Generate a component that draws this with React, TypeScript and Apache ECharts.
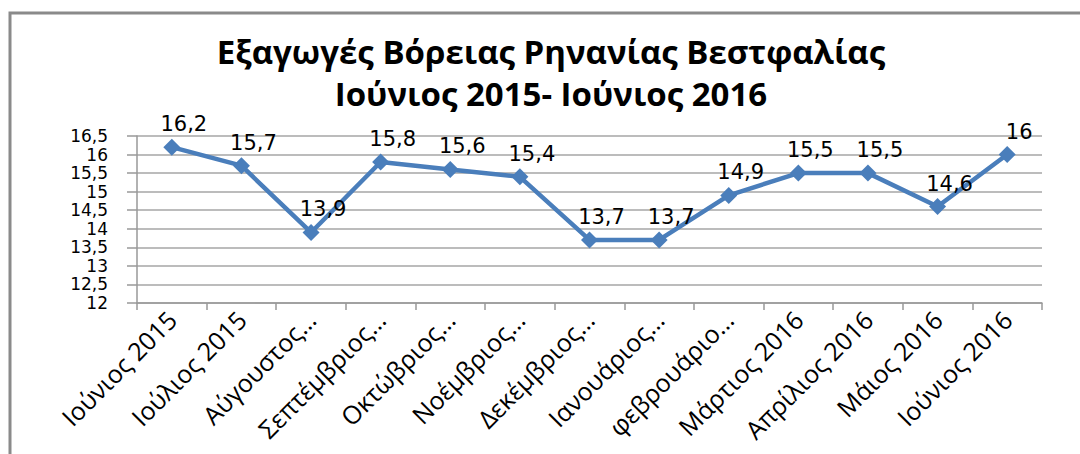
import React, { useEffect, useRef } from "react";
import * as echarts from "echarts";

const categories = [
  "Ιούνιος 2015",
  "Ιούλιος 2015",
  "Αύγουστος…",
  "Σεπτέμβριος…",
  "Οκτώβριος…",
  "Νοέμβριος…",
  "Δεκέμβριος…",
  "Ιανουάριος…",
  "φεβρουάριο…",
  "Μάρτιος 2016",
  "Απρίλιος 2016",
  "Μάιος 2016",
  "Ιούνιος 2016",
];
const values = [16.2, 15.7, 13.9, 15.8, 15.6, 15.4, 13.7, 13.7, 14.9, 15.5, 15.5, 14.6, 16];
const titleLines = ["Εξαγωγές Βόρειας Ρηνανίας Βεστφαλίας", "Ιούνιος 2015- Ιούνιος 2016"];
const yMin = 12;
const yMax = 16.5;
const yStep = 0.5;

const comma = (v: number) => String(v).replace(".", ",");

export default function App() {
  const ref = useRef<HTMLDivElement>(null);
  useEffect(() => {
    if (!ref.current) return;
    const chart = echarts.init(ref.current, undefined, { renderer: "svg" });
    chart.setOption({
      animation: false,
      backgroundColor: "#ffffff",
      graphic: [
        {
          type: "rect",
          shape: { x: 10, y: 13, width: 1200, height: 600 },
          style: { fill: "none", stroke: "#8a8a8a", lineWidth: 3 },
          silent: true,
        },
        {
          type: "text",
          style: {
            text: titleLines.join("\n"),
            x: 551,
            y: 72,
            textAlign: "center",
            textVerticalAlign: "middle",
            fontFamily: "Open Sans",
            fontWeight: "bold",
            fontSize: 33,
            lineHeight: 42,
            fill: "#000000",
          },
        },
      ],
      grid: { left: 137, right: 38, top: 136, bottom: 151, containLabel: false },
      xAxis: {
        type: "category",
        data: categories,
        boundaryGap: true,
        axisLine: { show: true, lineStyle: { color: "#999999", width: 1.5 } },
        axisTick: { show: true, length: 7, lineStyle: { color: "#999999", width: 1.5 } },
        axisLabel: {
          rotate: 45,
          interval: 0,
          margin: 12,
          fontFamily: "Open Sans",
          fontSize: 25,
          color: "#000000",
        },
      },
      yAxis: {
        type: "value",
        min: yMin,
        max: yMax,
        interval: yStep,
        axisLine: { show: true, lineStyle: { color: "#999999", width: 1.5 } },
        axisTick: { show: true, length: 10, lineStyle: { color: "#999999", width: 1.5 } },
        splitLine: { show: true, lineStyle: { color: "#a6a6a6", width: 1.5 } },
        axisLabel: {
          margin: 29,
          showMinLabel: true,
          showMaxLabel: true,
          hideOverlap: false,
          fontFamily: "DejaVu Sans",
          fontSize: 17,
          lineHeight: 16,
          color: "#000000",
          formatter: (v: number) => comma(v),
        },
      },
      series: [
        {
          type: "line",
          data: values,
          symbol: "diamond",
          symbolSize: 17,
          itemStyle: { color: "#4a7ebb" },
          lineStyle: { color: "#4a7ebb", width: 4.5 },
          label: {
            show: true,
            position: "top",
            distance: 4,
            offset: [12, 0],
            fontFamily: "DejaVu Sans",
            fontSize: 21,
            color: "#000000",
            formatter: (p: any) => comma(p.value),
          },
        },
      ],
    });
    return () => chart.dispose();
  }, []);
  return (
    <div
      ref={ref}
      style={{ position: "fixed", left: 0, top: 0, width: 1080, height: 454 }}
    />
  );
}
